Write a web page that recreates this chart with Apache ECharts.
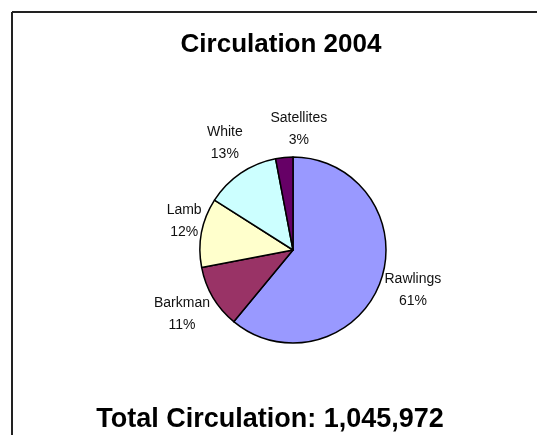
<!DOCTYPE html>
<html>
<head>
<meta charset="utf-8">
<script src="https://cdn.jsdelivr.net/npm/echarts@6/dist/echarts.min.js"></script>
<style>
  html, body { margin: 0; padding: 0; background: #fff; }
  #main { width: 537px; height: 435px; }
</style>
</head>
<body>
<div id="main"></div>
<script>
// data (share of circulation, %)
var categories = ['Rawlings', 'Barkman', 'Lamb', 'White', 'Satellites'];
var shares = [61, 11, 12, 13, 3];
var colors = ['#9999FF', '#993366', '#FFFFCC', '#CCFFFF', '#660066'];
var chartTitle = 'Circulation 2004';
var totalText = 'Total Circulation: 1,045,972';

var font = '"Liberation Sans", Arial, sans-serif';

// small nudges so the labels sit where Excel put them
var labelNudge = [[0, 9], [1, 17], [4, -11], [6, -30], [47, -28]];

var pieData = categories.map(function (name, i) {
  return {
    name: name,
    value: shares[i],
    itemStyle: { color: colors[i] },
    label: { offset: labelNudge[i] }
  };
});

var myChart = echarts.init(document.getElementById('main'));

var option = {
  animation: false,
  backgroundColor: '#fff',
  title: [
    {
      text: chartTitle,
      left: 276, top: 27, textAlign: 'center',
      textStyle: { fontFamily: font, fontSize: 26, fontWeight: 'bold', color: '#000' }
    },
    {
      text: totalText,
      left: 265, top: 401, textAlign: 'center',
      textStyle: { fontFamily: font, fontSize: 27, fontWeight: 'bold', color: '#000' }
    }
  ],
  graphic: [
    { type: 'line', shape: { x1: 12, y1: 12, x2: 537, y2: 12 }, style: { stroke: '#222', lineWidth: 2 } },
    { type: 'line', shape: { x1: 12, y1: 12, x2: 12, y2: 435 }, style: { stroke: '#222', lineWidth: 2 } }
  ],
  series: [
    {
      type: 'pie',
      center: [293, 250],
      radius: 93,
      startAngle: 90,
      clockwise: true,
      avoidLabelOverlap: false,
      itemStyle: { borderColor: '#000', borderWidth: 1.5 },
      emphasis: { disabled: true },
      label: {
        show: true,
        position: 'outside',
        formatter: '{b}\n{d}%',
        fontFamily: font,
        fontSize: 14,
        lineHeight: 22,
        color: '#111',
        distanceToLabelLine: 4
      },
      labelLine: { show: false, length: 0, length2: 0 },
      labelLayout: function (p) {
        return { x: p.labelRect.x + p.labelRect.width / 2, align: 'center' };
      },
      data: pieData
    }
  ]
};

option && myChart.setOption(option);
</script>
</body>
</html>
